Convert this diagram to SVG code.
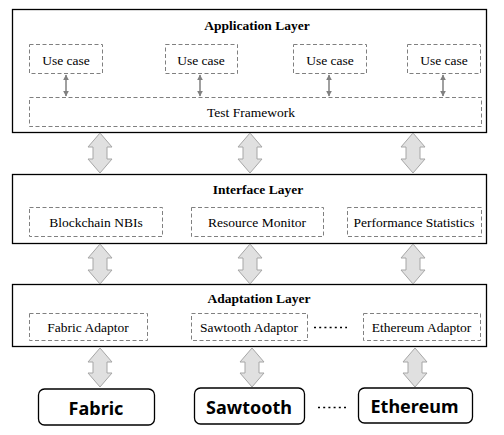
<svg xmlns="http://www.w3.org/2000/svg" width="504" height="435" viewBox="0 0 504 435">
<defs>
<style>
.layer{fill:#fff;stroke:#000;stroke-width:1.3}
.dbox{fill:none;stroke:#808080;stroke-width:1;stroke-dasharray:4 2.5}
.title{font-family:'Liberation Serif','Times New Roman',Tinos,'DejaVu Serif',serif;font-weight:bold;font-size:13.5px;text-anchor:middle;fill:#000}
.lbl{font-family:'Liberation Serif','Times New Roman',Tinos,'DejaVu Serif',serif;font-size:13.5px;text-anchor:middle;fill:#000}
.chain{fill:#fff;stroke:#000;stroke-width:1.3}
.clbl{font-family:'Noto Sans',sans-serif;font-weight:bold;font-size:18px;text-anchor:middle;fill:#000}
.big{fill:#e0e0e0;stroke:#a6a6a6;stroke-width:1}
.small{stroke:#808080;stroke-width:1.5;fill:none}
.dots{stroke:#000;stroke-width:1.5;stroke-dasharray:2 3.2;fill:none}
</style>
<marker id="ah" viewBox="0 0 10 10" refX="9" refY="5" markerWidth="4" markerHeight="4" orient="auto-start-reverse">
<path d="M0,0 L10,5 L0,10 Z" fill="#808080"/>
</marker>
</defs>

<g id="application-layer">
<rect class="layer" x="12.5" y="9.5" width="474" height="123"/>
<text class="title" x="257" y="30" font-family="Liberation Serif, serif">Application Layer</text>
</g>
<g id="usecase1"><rect class="dbox" x="29.5" y="44.5" width="73" height="29"/><text class="lbl" x="66" y="64.5" font-family="Liberation Serif, serif">Use case</text></g>
<g id="usecase2"><rect class="dbox" x="165.5" y="44.5" width="72" height="29"/><text class="lbl" x="201" y="64.5" font-family="Liberation Serif, serif">Use case</text></g>
<g id="usecase3"><rect class="dbox" x="293.5" y="44.5" width="73" height="29"/><text class="lbl" x="330" y="64.5" font-family="Liberation Serif, serif">Use case</text></g>
<g id="usecase4"><rect class="dbox" x="407.5" y="44.5" width="73" height="29"/><text class="lbl" x="444" y="64.5" font-family="Liberation Serif, serif">Use case</text></g>
<g id="test-framework"><rect class="dbox" x="29.5" y="97.5" width="452" height="29"/><text class="lbl" x="251" y="117" font-family="Liberation Serif, serif">Test Framework</text></g>

<g id="interface-layer">
<rect class="layer" x="12.5" y="174.5" width="474" height="69"/>
<text class="title" x="258" y="194" font-family="Liberation Serif, serif">Interface Layer</text>
</g>
<g id="blockchain-nbis"><rect class="dbox" x="29.5" y="207.5" width="133" height="29"/><text class="lbl" x="96" y="226.5" font-family="Liberation Serif, serif">Blockchain NBIs</text></g>
<g id="resource-monitor"><rect class="dbox" x="191.5" y="207.5" width="132" height="29"/><text class="lbl" x="257" y="226.5" font-family="Liberation Serif, serif">Resource Monitor</text></g>
<g id="performance-statistics"><rect class="dbox" x="347.5" y="207.5" width="134" height="29"/><text class="lbl" x="414" y="226.5" font-family="Liberation Serif, serif">Performance Statistics</text></g>

<g id="adaptation-layer">
<rect class="layer" x="12.5" y="284.5" width="474" height="62"/>
<text class="title" x="259" y="302.5" font-family="Liberation Serif, serif">Adaptation Layer</text>
</g>
<g id="fabric-adaptor"><rect class="dbox" x="29.5" y="313.5" width="118" height="27"/><text class="lbl" x="88" y="331.5" font-family="Liberation Serif, serif">Fabric Adaptor</text></g>
<g id="sawtooth-adaptor"><rect class="dbox" x="191.5" y="313.5" width="116" height="27"/><text class="lbl" x="249" y="331.5" font-family="Liberation Serif, serif">Sawtooth Adaptor</text></g>
<g id="ethereum-adaptor"><rect class="dbox" x="363.5" y="313.5" width="117" height="27"/><text class="lbl" x="421.5" y="331.5" font-family="Liberation Serif, serif">Ethereum Adaptor</text></g>

<g id="fabric"><rect class="chain" x="38.5" y="389" width="116" height="36" rx="6"/><text class="clbl" x="96" y="414.5">Fabric</text></g>
<g id="sawtooth"><rect class="chain" x="194.5" y="388" width="110" height="36" rx="6"/><text class="clbl" x="249" y="413.5">Sawtooth</text></g>
<g id="ethereum"><rect class="chain" x="358.5" y="388" width="114" height="35" rx="6"/><text class="clbl" x="414.5" y="412.5">Ethereum</text></g>

<g id="connectors">
<line class="small" x1="66" y1="75" x2="66" y2="96" marker-start="url(#ah)" marker-end="url(#ah)"/>
<line class="small" x1="200" y1="75" x2="200" y2="96" marker-start="url(#ah)" marker-end="url(#ah)"/>
<line class="small" x1="329" y1="75" x2="329" y2="96" marker-start="url(#ah)" marker-end="url(#ah)"/>
<line class="small" x1="443" y1="75" x2="443" y2="96" marker-start="url(#ah)" marker-end="url(#ah)"/>

<path class="big" d="M100,133 L112,147 L107,147 L107,159 L112,159 L100,173 L88,159 L93,159 L93,147 L88,147 Z"/>
<path class="big" d="M250,133 L262,147 L257,147 L257,159 L262,159 L250,173 L238,159 L243,159 L243,147 L238,147 Z"/>
<path class="big" d="M413,133 L425,147 L420,147 L420,159 L425,159 L413,173 L401,159 L406,159 L406,147 L401,147 Z"/>

<path class="big" d="M100,244 L112,258 L107,258 L107,270 L112,270 L100,284 L88,270 L93,270 L93,258 L88,258 Z"/>
<path class="big" d="M250,244 L262,258 L257,258 L257,270 L262,270 L250,284 L238,270 L243,270 L243,258 L238,258 Z"/>
<path class="big" d="M413,244 L425,258 L420,258 L420,270 L425,270 L413,284 L401,270 L406,270 L406,258 L401,258 Z"/>

<path class="big" d="M100,348 L112,362 L107,362 L107,373 L112,373 L100,387 L88,373 L93,373 L93,362 L88,362 Z"/>
<path class="big" d="M252,348 L264,362 L259,362 L259,373 L264,373 L252,387 L240,373 L245,373 L245,362 L240,362 Z"/>
<path class="big" d="M415,348 L427,362 L422,362 L422,373 L427,373 L415,387 L403,373 L408,373 L408,362 L403,362 Z"/>

<line class="dots" x1="314" y1="327.5" x2="347" y2="327.5"/>
<line class="dots" x1="318" y1="407.5" x2="349" y2="407.5"/>
</g>
</svg>
